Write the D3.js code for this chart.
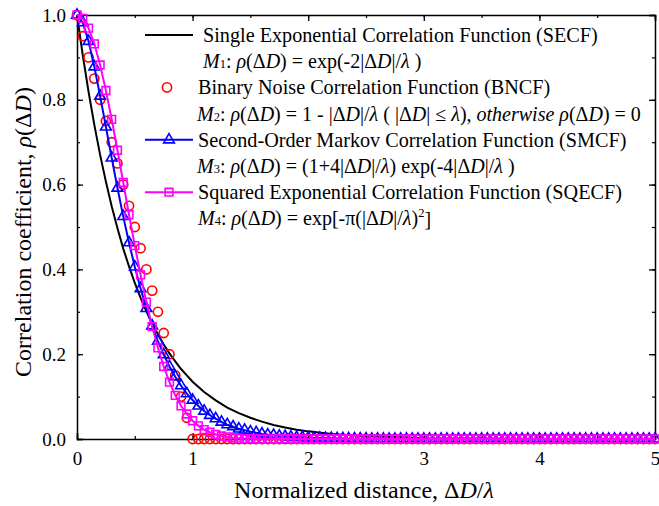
<!DOCTYPE html>
<html><head><meta charset="utf-8">
<script src="https://cdn.jsdelivr.net/npm/d3@7"></script>
<style>
body{margin:0;background:#fff;}
</style></head>
<body><svg id="chart" width="659" height="506" style='font-family:"Liberation Serif",serif'></svg>
<script>
// ---- data ----
const xTickLabels = ["0","1","2","3","4","5"];
const yTickLabels = ["0.0","0.2","0.4","0.6","0.8","1.0"];

// SECF (line only)
const secfX = [0,0.05,0.1,0.15,0.2,0.25,0.3,0.35,0.4,0.45,0.5,0.55,0.6,0.65,0.7,0.75,0.8,0.85,0.9,0.95,1.0,1.1,1.2,1.3,1.4,1.5,1.6,1.7,1.8,1.9,2.0,2.2,2.4,2.6,2.8,3.0,3.5,4.0,4.5,5.0];
const secfY = [1,0.905,0.819,0.741,0.670,0.607,0.549,0.497,0.449,0.407,0.368,0.333,0.301,0.273,0.247,0.223,0.202,0.183,0.165,0.150,0.135,0.111,0.091,0.074,0.061,0.050,0.041,0.033,0.027,0.022,0.018,0.012,0.008,0.006,0.004,0.002,0.001,0.0,0.0,0.0];

// marker series sampled every 0.05 from 0 to 5
const sampleX = d3.range(0, 101).map(i => +(i * 0.05).toFixed(2));
const bncfY = [1,0.95,0.9,0.85,0.8,0.75,0.7,0.65,0.6,0.55,0.5,0.45,0.4,0.35,0.3,0.25,0.2,0.15,0.1,0.05,0,
 0,0,0,0,0,0,0,0,0,0, 0,0,0,0,0,0,0,0,0,0, 0,0,0,0,0,0,0,0,0,0, 0,0,0,0,0,0,0,0,0,0,
 0,0,0,0,0,0,0,0,0,0, 0,0,0,0,0,0,0,0,0,0, 0,0,0,0,0,0,0,0,0,0, 0,0,0,0,0,0,0,0,0,0];
const smcfY = [1,0.982,0.938,0.878,0.809,0.736,0.663,0.592,0.525,0.463,0.406,0.355,0.308,0.267,0.231,0.199,0.171,0.147,0.126,0.107,0.092,
 0.078,0.066,0.056,0.048,0.040,0.034,0.029,0.024,0.021,0.017,0.015,0.012,0.010,0.009,0.007,0.006,0.005,0.004,0.004,0.003,
 0.0025,0.0021,0.0018,0.0015,0.0012,0.001,0.0008,0.0007,0.0006,0.0005,
 0,0,0,0,0,0,0,0,0,0, 0,0,0,0,0,0,0,0,0,0, 0,0,0,0,0,0,0,0,0,0, 0,0,0,0,0,0,0,0,0,0, 0,0,0,0,0,0,0,0,0,0];
const sqecfY = [1,0.992,0.969,0.932,0.882,0.822,0.754,0.681,0.605,0.529,0.456,0.387,0.323,0.265,0.215,0.171,0.134,0.103,0.078,0.059,0.043,
 0.031,0.022,0.016,0.011,0.007,0.005,0.003,0.002,0.001,0.001,
 0,0,0,0,0,0,0,0,0,0, 0,0,0,0,0,0,0,0,0,0, 0,0,0,0,0,0,0,0,0,0, 0,0,0,0,0,0,0,0,0,0,
 0,0,0,0,0,0,0,0,0,0, 0,0,0,0,0,0,0,0,0,0, 0,0,0,0,0,0,0,0,0,0];

const legendNames = [
  "Single Exponential Correlation Function (SECF)",
  "Binary Noise Correlation Function (BNCF)",
  "Second-Order Markov Correlation Function (SMCF)",
  "Squared Exponential Correlation Function (SQECF)"
];
// formula segments: [text, style]  i=italic, s=small index, p=superscript
const legendFormulas = [
  [["M","i"],["1","s"],[": ",""],["ρ","i"],["(Δ",""],["D","i"],[") = exp(-2|Δ",""],["D","i"],["|/",""],["λ","i"],[" )",""]],
  [["M","i"],["2","s"],[": ",""],["ρ","i"],["(Δ",""],["D","i"],[") = 1 - |Δ",""],["D","i"],["|/",""],["λ","i"],[" ( |Δ",""],["D","i"],["| ≤ ",""],["λ","i"],["), ",""],["otherwise ","i"],["ρ","i"],["(Δ",""],["D","i"],[") = 0",""]],
  [["M","i"],["3","s"],[": ",""],["ρ","i"],["(Δ",""],["D","i"],[") = (1+4|Δ",""],["D","i"],["|/",""],["λ","i"],[") exp(-4|Δ",""],["D","i"],["|/",""],["λ","i"],[" )",""]],
  [["M","i"],["4","s"],[": ",""],["ρ","i"],["(Δ",""],["D","i"],[") = exp[-π(|Δ",""],["D","i"],["|/",""],["λ","i"],[")",""],["2","p"],["]",""]]
];
const seriesColors = ["#000000","#ff0000","#0000ff","#ff00ff"];

// ---- layout ----
const FONT = '"Liberation Serif", serif';
const svg = d3.select("#chart");
const W = 659, H = 506;
const m = {left:77, right:4, top:15, bottom:67};
const iw = W - m.left - m.right, ih = H - m.top - m.bottom;
const x = d3.scaleLinear().domain([0,5]).range([m.left, m.left+iw]);
const y = d3.scaleLinear().domain([0,1]).range([m.top+ih, m.top]);

const g = svg.append("g");

function addAxis(axis, transform, showLabels){
  const a = g.append("g").attr("transform", transform).call(axis).attr("font-family", FONT);
  a.select(".domain").attr("stroke","#000").attr("stroke-width",1.5);
  a.selectAll(".tick line").attr("stroke","#000").attr("stroke-width",1.3);
  a.selectAll(".tick text").style("font-size","19px").style("font-family",FONT).attr("fill","#000");
  if(!showLabels) a.selectAll(".tick text").remove();
  return a;
}
const xMinor = d3.range(0,11).map(i=>i*0.5);
const yMinor = d3.range(0,11).map(i=>i*0.1);
function minor(axis, transform){
  g.append("g").attr("transform",transform).call(axis.tickSize(-3).tickFormat(""))
   .call(s=>{s.select(".domain").remove();s.selectAll("line").attr("stroke","#000").attr("stroke-width",1.2);s.selectAll("text").remove();});
}
minor(d3.axisBottom(x).tickValues(xMinor), `translate(0,${m.top+ih})`);
minor(d3.axisTop(x).tickValues(xMinor), `translate(0,${m.top})`);
minor(d3.axisLeft(y).tickValues(yMinor), `translate(${m.left},0)`);
minor(d3.axisRight(y).tickValues(yMinor), `translate(${m.left+iw},0)`);

const xb = addAxis(d3.axisBottom(x).tickValues([0,1,2,3,4,5]).tickSize(-6).tickPadding(13).tickFormat((d,i)=>xTickLabels[i]), `translate(0,${m.top+ih})`, true);
const yl = addAxis(d3.axisLeft(y).tickValues([0,0.2,0.4,0.6,0.8,1.0]).tickSize(-6).tickPadding(11).tickFormat((d,i)=>yTickLabels[i]), `translate(${m.left},0)`, true);
addAxis(d3.axisTop(x).tickValues([0,1,2,3,4,5]).tickSize(-6), `translate(0,${m.top})`, false);
addAxis(d3.axisRight(y).tickValues([0,0.2,0.4,0.6,0.8,1.0]).tickSize(-6), `translate(${m.left+iw},0)`, false);

// axis titles
const xt = g.append("text").attr("x", 364).attr("y", 498).attr("text-anchor","middle").style("font-size","24px").style("font-family",FONT);
xt.append("tspan").text("Normalized distance, Δ");
xt.append("tspan").style("font-style","italic").text("D");
xt.append("tspan").text("/");
xt.append("tspan").style("font-style","italic").text("λ");

const yt = g.append("text").attr("transform",`translate(31,232) rotate(-90)`).attr("text-anchor","middle").style("font-size","24px").style("font-family",FONT);
yt.append("tspan").text("Correlation coefficient, ");
yt.append("tspan").style("font-style","italic").text("ρ");
yt.append("tspan").text("(Δ");
yt.append("tspan").style("font-style","italic").text("D");
yt.append("tspan").text(")");

// ---- series ----
const line = d3.line().x(d=>x(d[0])).y(d=>y(d[1]));
const plot = g.append("g");
plot.append("path").datum(secfX.map((v,i)=>[v,secfY[i]])).attr("d",line).attr("fill","none").attr("stroke",seriesColors[0]).attr("stroke-width",2);

const bncf = sampleX.map((v,i)=>[v,bncfY[i]]);
const smcf = sampleX.map((v,i)=>[v,smcfY[i]]);
const sqecf = sampleX.map((v,i)=>[v,sqecfY[i]]);

plot.selectAll("circle.bn").data(bncf).join("circle").attr("class","bn")
  .attr("cx",d=>x(d[0])).attr("cy",d=>y(d[1])).attr("r",4.6)
  .attr("fill","none").attr("stroke",seriesColors[1]).attr("stroke-width",1.6);

const triSym = d3.symbol().type(d3.symbolTriangle).size(50);
const sqSym = d3.symbol().type(d3.symbolSquare).size(60);

plot.append("path").datum(smcf).attr("d",line).attr("fill","none").attr("stroke",seriesColors[2]).attr("stroke-width",2);
plot.selectAll("path.tri").data(smcf).join("path").attr("class","tri")
  .attr("transform",d=>`translate(${x(d[0])},${y(d[1])})`).attr("d",triSym)
  .attr("fill","none").attr("stroke",seriesColors[2]).attr("stroke-width",1.6);

plot.append("path").datum(sqecf).attr("d",line).attr("fill","none").attr("stroke",seriesColors[3]).attr("stroke-width",2);
plot.selectAll("path.sq").data(sqecf).join("path").attr("class","sq")
  .attr("transform",d=>`translate(${x(d[0])},${y(d[1])})`).attr("d",sqSym)
  .attr("fill","none").attr("stroke",seriesColors[3]).attr("stroke-width",1.6);

// ---- legend ----
const lg = g.append("g");
const rowY0 = 35, rowDY = 26.2;
const nameX = [203,198,198,198], formX = [203,197,197,198];
legendNames.forEach((name,i)=>{
  const cy = rowY0 + rowDY*2*i;
  const c = seriesColors[i];
  if(i!==1){
    lg.append("line").attr("x1",145).attr("x2",193).attr("y1",cy).attr("y2",cy).attr("stroke",c).attr("stroke-width",2);
  }
  if(i===1) lg.append("circle").attr("cx",167).attr("cy",cy).attr("r",4.6).attr("fill","none").attr("stroke",c).attr("stroke-width",1.6);
  if(i===2) lg.append("path").attr("transform",`translate(169,${cy})`).attr("d",triSym).attr("fill","none").attr("stroke",c).attr("stroke-width",1.6);
  if(i===3) lg.append("path").attr("transform",`translate(169,${cy})`).attr("d",sqSym).attr("fill","none").attr("stroke",c).attr("stroke-width",1.6);
  lg.append("text").attr("x",nameX[i]).attr("y",cy).attr("dy","0.35em").style("font-size","20.2px").style("font-family",FONT).text(name);
  const ft = lg.append("text").attr("x",formX[i]).attr("y",cy+rowDY).attr("dy","0.35em").style("font-size","20px").style("font-family",FONT);
  legendFormulas[i].forEach(([t,s],j)=>{
    const sp = ft.append("tspan").text(t);
    if(s==="i") sp.style("font-style","italic");
    if(s==="s") sp.style("font-size","12.5px");
    if(s==="p") sp.style("font-size","12.5px").attr("dy","-0.7em");
    if(j>0 && legendFormulas[i][j-1][1]==="p") sp.attr("dy","0.45em");
  });
});
</script></body></html>
